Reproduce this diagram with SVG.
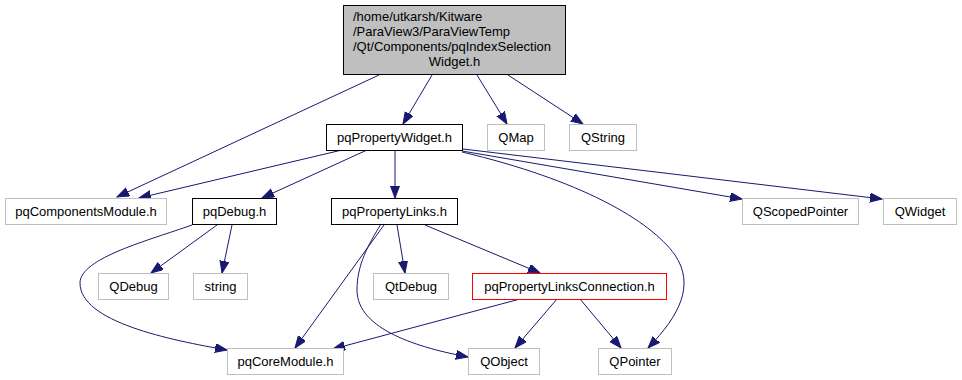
<svg xmlns="http://www.w3.org/2000/svg" width="962" height="380" viewBox="0 0 962 380">
  <style>
    text { font-family: "Liberation Sans", Arial, sans-serif; font-size: 13px; fill: #000; }
    .c { text-anchor: middle; }
    rect { fill: #fff; stroke-width: 1; }
    .root rect { fill: #bfbfbf; stroke: #000; }
    .local rect { stroke: #000; }
    .ext rect { stroke: #bfbfbf; }
    .red rect { stroke: #ff0000; }
    #edges path { fill: none; stroke: #191970; stroke-width: 1; marker-end: url(#arrow); }
  </style>
  <defs>
    <marker id="arrow" markerUnits="userSpaceOnUse" markerWidth="13" markerHeight="10" refX="12" refY="4.5" orient="auto">
      <path d="M0,0 L12,4.5 L0,9 z" fill="#191970" stroke="#191970" stroke-width="1"/>
    </marker>
  </defs>
  <rect x="0" y="0" width="962" height="380" style="fill:#fff;stroke:none"/>

  <g id="edges">
    <path d="M379,75 L117,197"/>
    <path d="M432,75 L403,124"/>
    <path d="M477,75 L507,124"/>
    <path d="M508,75 L583,124"/>
    <path d="M342,150 L139,198"/>
    <path d="M367,150 L262,198"/>
    <path d="M395,150 L395,198"/>
    <path d="M462,151 L742,199"/>
    <path d="M463,149 L882,199"/>
    <path d="M462,152 C580,180 650,220 675,255 C695,285 680,315 648,348"/>
    <path d="M217,225 L151,273"/>
    <path d="M232,225 L222,273"/>
    <path d="M192,225 C150,240 80,258 80,283 C80,322 170,340 227,350"/>
    <path d="M384,225 L295,348"/>
    <path d="M381,224 C368,245 357,265 357,290 C357,330 420,348 468,357"/>
    <path d="M397,225 L405,273"/>
    <path d="M425,225 L540,273"/>
    <path d="M520,299 L333,349"/>
    <path d="M557,299 L515,348"/>
    <path d="M580,299 L621,348"/>
  </g>

  <g id="node-root" class="root">
    <rect x="343.5" y="5.5" width="222" height="69"/>
    <text x="353" y="21">/home/utkarsh/Kitware</text>
    <text x="353" y="36">/ParaView3/ParaViewTemp</text>
    <text x="353" y="51">/Qt/Components/pqIndexSelection</text>
    <text class="c" x="454.5" y="66">Widget.h</text>
  </g>

  <g id="node-pqPropertyWidget" class="local">
    <rect x="326.5" y="124.5" width="136" height="26"/>
    <text class="c" x="394.5" y="142">pqPropertyWidget.h</text>
  </g>
  <g id="node-QMap" class="ext">
    <rect x="487.5" y="124.5" width="57" height="26"/>
    <text class="c" x="516" y="142">QMap</text>
  </g>
  <g id="node-QString" class="ext">
    <rect x="569.5" y="124.5" width="67" height="26"/>
    <text class="c" x="603" y="142">QString</text>
  </g>

  <g id="node-pqComponentsModule" class="ext">
    <rect x="5.5" y="198.5" width="161" height="26"/>
    <text class="c" x="86" y="216">pqComponentsModule.h</text>
  </g>
  <g id="node-pqDebug" class="local">
    <rect x="192.5" y="198.5" width="84" height="26"/>
    <text class="c" x="234.5" y="216">pqDebug.h</text>
  </g>
  <g id="node-pqPropertyLinks" class="local">
    <rect x="331.5" y="198.5" width="126" height="26"/>
    <text class="c" x="394.5" y="216">pqPropertyLinks.h</text>
  </g>
  <g id="node-QScopedPointer" class="ext">
    <rect x="742.5" y="198.5" width="116" height="26"/>
    <text class="c" x="800.5" y="216">QScopedPointer</text>
  </g>
  <g id="node-QWidget" class="ext">
    <rect x="883.5" y="198.5" width="73" height="26"/>
    <text class="c" x="920" y="216">QWidget</text>
  </g>

  <g id="node-QDebug" class="ext">
    <rect x="98.5" y="273.5" width="70" height="26"/>
    <text class="c" x="133.5" y="291">QDebug</text>
  </g>
  <g id="node-string" class="ext">
    <rect x="193.5" y="273.5" width="54" height="26"/>
    <text class="c" x="220.5" y="291">string</text>
  </g>
  <g id="node-QtDebug" class="ext">
    <rect x="373.5" y="273.5" width="75" height="26"/>
    <text class="c" x="411" y="291">QtDebug</text>
  </g>
  <g id="node-pqPropertyLinksConnection" class="red">
    <rect x="472.5" y="273.5" width="194" height="26"/>
    <text class="c" x="569.5" y="291">pqPropertyLinksConnection.h</text>
  </g>

  <g id="node-pqCoreModule" class="ext">
    <rect x="227.5" y="348.5" width="116" height="26"/>
    <text class="c" x="285.5" y="366">pqCoreModule.h</text>
  </g>
  <g id="node-QObject" class="ext">
    <rect x="468.5" y="348.5" width="71" height="26"/>
    <text class="c" x="504" y="366">QObject</text>
  </g>
  <g id="node-QPointer" class="ext">
    <rect x="598.5" y="348.5" width="73" height="26"/>
    <text class="c" x="635" y="366">QPointer</text>
  </g>
</svg>
